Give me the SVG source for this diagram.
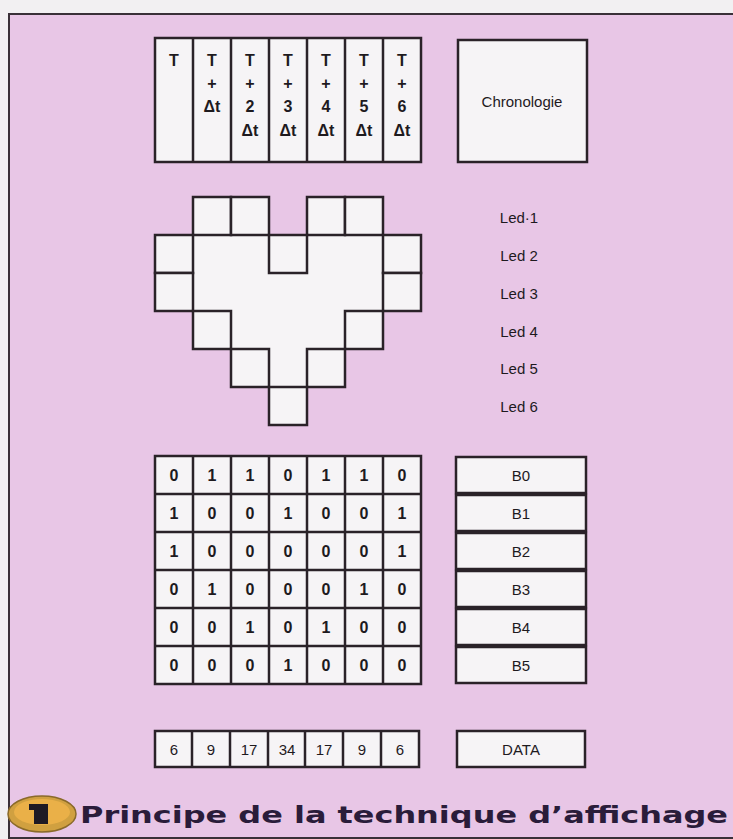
<svg xmlns="http://www.w3.org/2000/svg" width="733" height="839" viewBox="0 0 733 839">
<style>
.bx{fill:#f6f4f6;stroke:#2a2228;stroke-width:2.5}
.ln{stroke:#2a2228;stroke-width:2.5}
.t{font-family:"Liberation Sans",Arial,sans-serif;font-size:15px;fill:#1e1a1e;text-anchor:middle}
.tb{font-family:"Liberation Sans",Arial,sans-serif;font-size:16px;font-weight:bold;fill:#1e1a1e;text-anchor:middle}
</style>
<rect x="0" y="0" width="733" height="839" fill="#f2f0f2"/>
<rect x="9" y="14" width="726" height="824" fill="#e8c6e6" stroke="#3a3038" stroke-width="2"/>

<g id="timeline">
<rect class="bx" x="155" y="38" width="266" height="124"/>
<line class="ln" x1="193" y1="38" x2="193" y2="162"/>
<line class="ln" x1="231" y1="38" x2="231" y2="162"/>
<line class="ln" x1="269" y1="38" x2="269" y2="162"/>
<line class="ln" x1="307" y1="38" x2="307" y2="162"/>
<line class="ln" x1="345" y1="38" x2="345" y2="162"/>
<line class="ln" x1="383" y1="38" x2="383" y2="162"/>
<text class="tb" x="174" y="66">T</text>
<text class="tb" x="212" y="66">T</text><text class="tb" x="212" y="89">+</text><text class="tb" x="212" y="112">Δt</text>
<text class="tb" x="250" y="66">T</text><text class="tb" x="250" y="89">+</text><text class="tb" x="250" y="112">2</text><text class="tb" x="250" y="136">Δt</text>
<text class="tb" x="288" y="66">T</text><text class="tb" x="288" y="89">+</text><text class="tb" x="288" y="112">3</text><text class="tb" x="288" y="136">Δt</text>
<text class="tb" x="326" y="66">T</text><text class="tb" x="326" y="89">+</text><text class="tb" x="326" y="112">4</text><text class="tb" x="326" y="136">Δt</text>
<text class="tb" x="364" y="66">T</text><text class="tb" x="364" y="89">+</text><text class="tb" x="364" y="112">5</text><text class="tb" x="364" y="136">Δt</text>
<text class="tb" x="402" y="66">T</text><text class="tb" x="402" y="89">+</text><text class="tb" x="402" y="112">6</text><text class="tb" x="402" y="136">Δt</text>
</g>

<g id="chronologie">
<rect class="bx" x="458" y="40" width="129" height="122"/>
<text class="t" x="522" y="107" font-size="16">Chronologie</text>
</g>

<g id="heart">
<path d="M193 197H269V235H307V197H383V235H421V311H383V349H345V387H307V425H269V387H231V349H193V311H155V235H193Z" fill="#f6f4f6"/>
<g class="bx">
<rect x="193" y="197" width="38" height="38"/><rect x="231" y="197" width="38" height="38"/>
<rect x="307" y="197" width="38" height="38"/><rect x="345" y="197" width="38" height="38"/>
<rect x="155" y="235" width="38" height="38"/><rect x="269" y="235" width="38" height="38"/><rect x="383" y="235" width="38" height="38"/>
<rect x="155" y="273" width="38" height="38"/><rect x="383" y="273" width="38" height="38"/>
<rect x="193" y="311" width="38" height="38"/><rect x="345" y="311" width="38" height="38"/>
<rect x="231" y="349" width="38" height="38"/><rect x="307" y="349" width="38" height="38"/>
<rect x="269" y="387" width="38" height="38"/>
</g>
</g>

<g id="led-labels">
<text class="t" x="519" y="223">Led·1</text>
<text class="t" x="519" y="261">Led 2</text>
<text class="t" x="519" y="299">Led 3</text>
<text class="t" x="519" y="337">Led 4</text>
<text class="t" x="519" y="374">Led 5</text>
<text class="t" x="519" y="412">Led 6</text>
</g>

<g id="matrix">
<rect class="bx" x="155" y="456" width="266" height="228"/>
<line class="ln" x1="193" y1="456" x2="193" y2="684"/>
<line class="ln" x1="231" y1="456" x2="231" y2="684"/>
<line class="ln" x1="269" y1="456" x2="269" y2="684"/>
<line class="ln" x1="307" y1="456" x2="307" y2="684"/>
<line class="ln" x1="345" y1="456" x2="345" y2="684"/>
<line class="ln" x1="383" y1="456" x2="383" y2="684"/>
<line class="ln" x1="155" y1="494" x2="421" y2="494"/>
<line class="ln" x1="155" y1="532" x2="421" y2="532"/>
<line class="ln" x1="155" y1="570" x2="421" y2="570"/>
<line class="ln" x1="155" y1="608" x2="421" y2="608"/>
<line class="ln" x1="155" y1="646" x2="421" y2="646"/>
<g class="tb">
<text x="174" y="481">0</text><text x="212" y="481">1</text><text x="250" y="481">1</text><text x="288" y="481">0</text><text x="326" y="481">1</text><text x="364" y="481">1</text><text x="402" y="481">0</text>
<text x="174" y="519">1</text><text x="212" y="519">0</text><text x="250" y="519">0</text><text x="288" y="519">1</text><text x="326" y="519">0</text><text x="364" y="519">0</text><text x="402" y="519">1</text>
<text x="174" y="557">1</text><text x="212" y="557">0</text><text x="250" y="557">0</text><text x="288" y="557">0</text><text x="326" y="557">0</text><text x="364" y="557">0</text><text x="402" y="557">1</text>
<text x="174" y="595">0</text><text x="212" y="595">1</text><text x="250" y="595">0</text><text x="288" y="595">0</text><text x="326" y="595">0</text><text x="364" y="595">1</text><text x="402" y="595">0</text>
<text x="174" y="633">0</text><text x="212" y="633">0</text><text x="250" y="633">1</text><text x="288" y="633">0</text><text x="326" y="633">1</text><text x="364" y="633">0</text><text x="402" y="633">0</text>
<text x="174" y="671">0</text><text x="212" y="671">0</text><text x="250" y="671">0</text><text x="288" y="671">1</text><text x="326" y="671">0</text><text x="364" y="671">0</text><text x="402" y="671">0</text>
</g>
</g>

<g id="bytes">
<rect class="bx" x="456" y="457" width="130" height="36"/>
<rect class="bx" x="456" y="495" width="130" height="36"/>
<rect class="bx" x="456" y="533" width="130" height="36"/>
<rect class="bx" x="456" y="571" width="130" height="36"/>
<rect class="bx" x="456" y="609" width="130" height="36"/>
<rect class="bx" x="456" y="647" width="130" height="36"/>
<text class="t" x="521" y="481">B0</text>
<text class="t" x="521" y="519">B1</text>
<text class="t" x="521" y="557">B2</text>
<text class="t" x="521" y="595">B3</text>
<text class="t" x="521" y="633">B4</text>
<text class="t" x="521" y="671">B5</text>
</g>

<g id="data-values">
<rect class="bx" x="155" y="731" width="264" height="36"/>
<line class="ln" x1="192" y1="731" x2="192" y2="767"/>
<line class="ln" x1="230" y1="731" x2="230" y2="767"/>
<line class="ln" x1="268" y1="731" x2="268" y2="767"/>
<line class="ln" x1="305" y1="731" x2="305" y2="767"/>
<line class="ln" x1="343" y1="731" x2="343" y2="767"/>
<line class="ln" x1="381" y1="731" x2="381" y2="767"/>
<g class="t" font-size="16">
<text x="174" y="755">6</text><text x="211" y="755">9</text><text x="249" y="755">17</text><text x="287" y="755">34</text><text x="324" y="755">17</text><text x="362" y="755">9</text><text x="400" y="755">6</text>
</g>
</g>

<g id="data">
<rect class="bx" x="457" y="731" width="128" height="36"/>
<text class="t" x="521" y="755" font-size="16">DATA</text>
</g>

<g id="caption">
<ellipse cx="42" cy="814" rx="34" ry="18" fill="#d0a040" stroke="#8a6a2a" stroke-width="1.5"/>
<ellipse cx="42" cy="812" rx="28" ry="13" fill="#eab048"/>
<rect x="34" y="804" width="14" height="20" fill="#1e1a24"/>
<rect x="29" y="804" width="8" height="6" fill="#1e1a24"/>
<text x="80" y="823" font-family="'DejaVu Sans',sans-serif" font-weight="bold" font-size="23" fill="#2a1c3a" textLength="648" lengthAdjust="spacingAndGlyphs">Principe de la technique d’affichage</text>
</g>
</svg>
